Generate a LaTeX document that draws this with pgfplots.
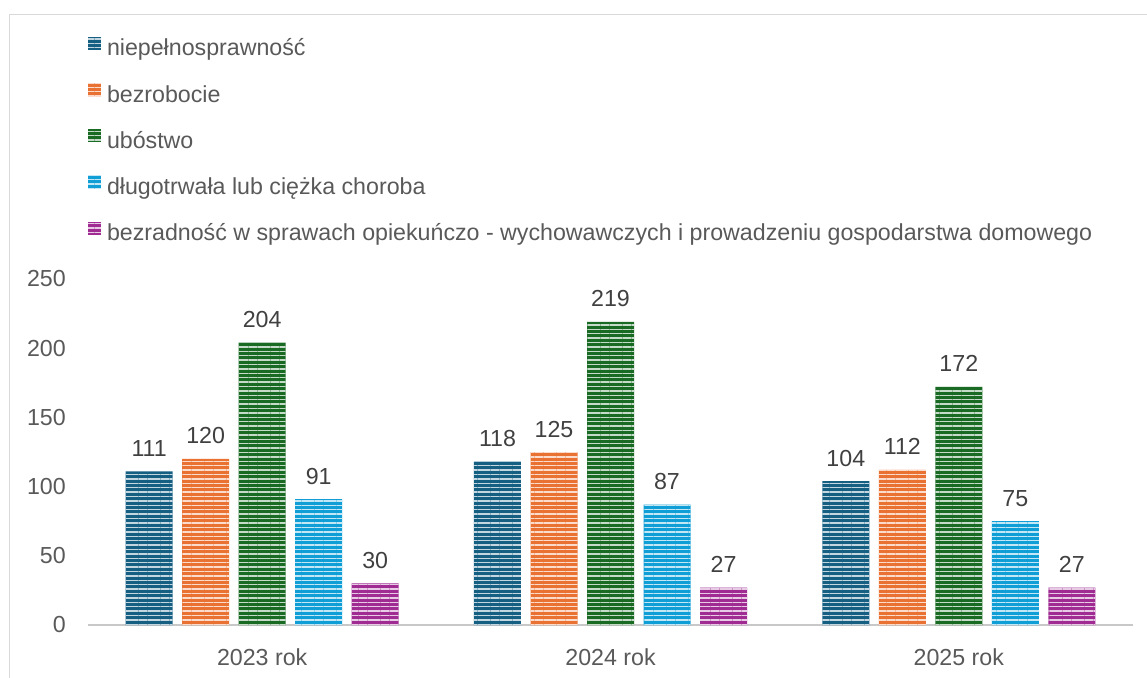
\documentclass[border=0pt]{standalone}
\usepackage{pgfplots}
\pgfplotsset{compat=1.18}
\usepackage{fontspec}
\setmainfont{Liberation Sans}
\usetikzlibrary{patterns.meta}
\definecolor{cA}{HTML}{156082}
\definecolor{cB}{HTML}{E97132}
\definecolor{cC}{HTML}{196B24}
\definecolor{cD}{HTML}{0F9ED5}
\definecolor{cE}{HTML}{A02B93}
\definecolor{tgray}{HTML}{595959}
\definecolor{lgray}{HTML}{404040}
\definecolor{agray}{HTML}{C8C8C8}
\definecolor{fgray}{HTML}{D9D9D9}
\pgfplotsset{striped/.style={fill=#1, draw=none,
  postaction={pattern={Lines[angle=0,distance=4.4pt,line width=1.4pt]}, pattern color=white!75!#1}}}
\begin{document}
\begin{tikzpicture}[font=\fontsize{23.2}{27}\selectfont]
\draw[fgray, line width=1.5pt] (9.5pt,-10pt) -- (9.5pt,662.5pt) -- (1160pt,662.5pt);
\begin{axis}[
  at={(88pt,52pt)}, anchor=south west,
  scale only axis, width=1045pt, height=346pt,
  ybar=9.5pt, bar width=47pt,
  xmin=-0.5, xmax=2.5, ymin=0, ymax=250,
  xtick={0,1,2}, xticklabels={2023 rok,2024 rok,2025 rok},
  ytick={0,50,...,250},
  major tick length=0pt,
  axis x line*=bottom, axis y line*=left,
  x axis line style={agray, line width=2pt},
  y axis line style={draw=none},
  /pgf/number format/assume math mode=true,
  ticklabel style={text=tgray},
  yticklabel style={inner sep=0pt, xshift=-22pt},
  xticklabel style={inner sep=0pt, anchor=north, yshift=-23pt},
  nodes near coords,
  every node near coord/.append style={anchor=base, inner sep=0pt, yshift=15pt, text=lgray, /pgf/number format/assume math mode=true},
  legend cell align=left,
  legend image code/.code={\fill[#1] (0pt,0pt) rectangle (13pt,13pt);},
  legend style={at={(0,1)}, anchor=south west, yshift=33pt, draw=none, fill=none,
    inner sep=0pt, outer sep=0pt, row sep=22.25pt,
    nodes={inner sep=0pt, text height=17pt, text depth=5pt, text=tgray},
    /tikz/every odd column/.style={column sep=6pt}},
]
\addplot[striped=cA] coordinates {(0,111) (1,118) (2,104)};
\addplot[striped=cB] coordinates {(0,120) (1,125) (2,112)};
\addplot[striped=cC] coordinates {(0,204) (1,219) (2,172)};
\addplot[striped=cD] coordinates {(0,91) (1,87) (2,75)};
\addplot[striped=cE] coordinates {(0,30) (1,27) (2,27)};
\legend{niepełnosprawność, bezrobocie, ubóstwo, długotrwała lub ciężka choroba, bezradność w sprawach opiekuńczo - wychowawczych i prowadzeniu gospodarstwa domowego}
\end{axis}
\pgfresetboundingbox
\path[use as bounding box] (0,0) rectangle (1147pt,677pt);
\end{tikzpicture}
\end{document}
